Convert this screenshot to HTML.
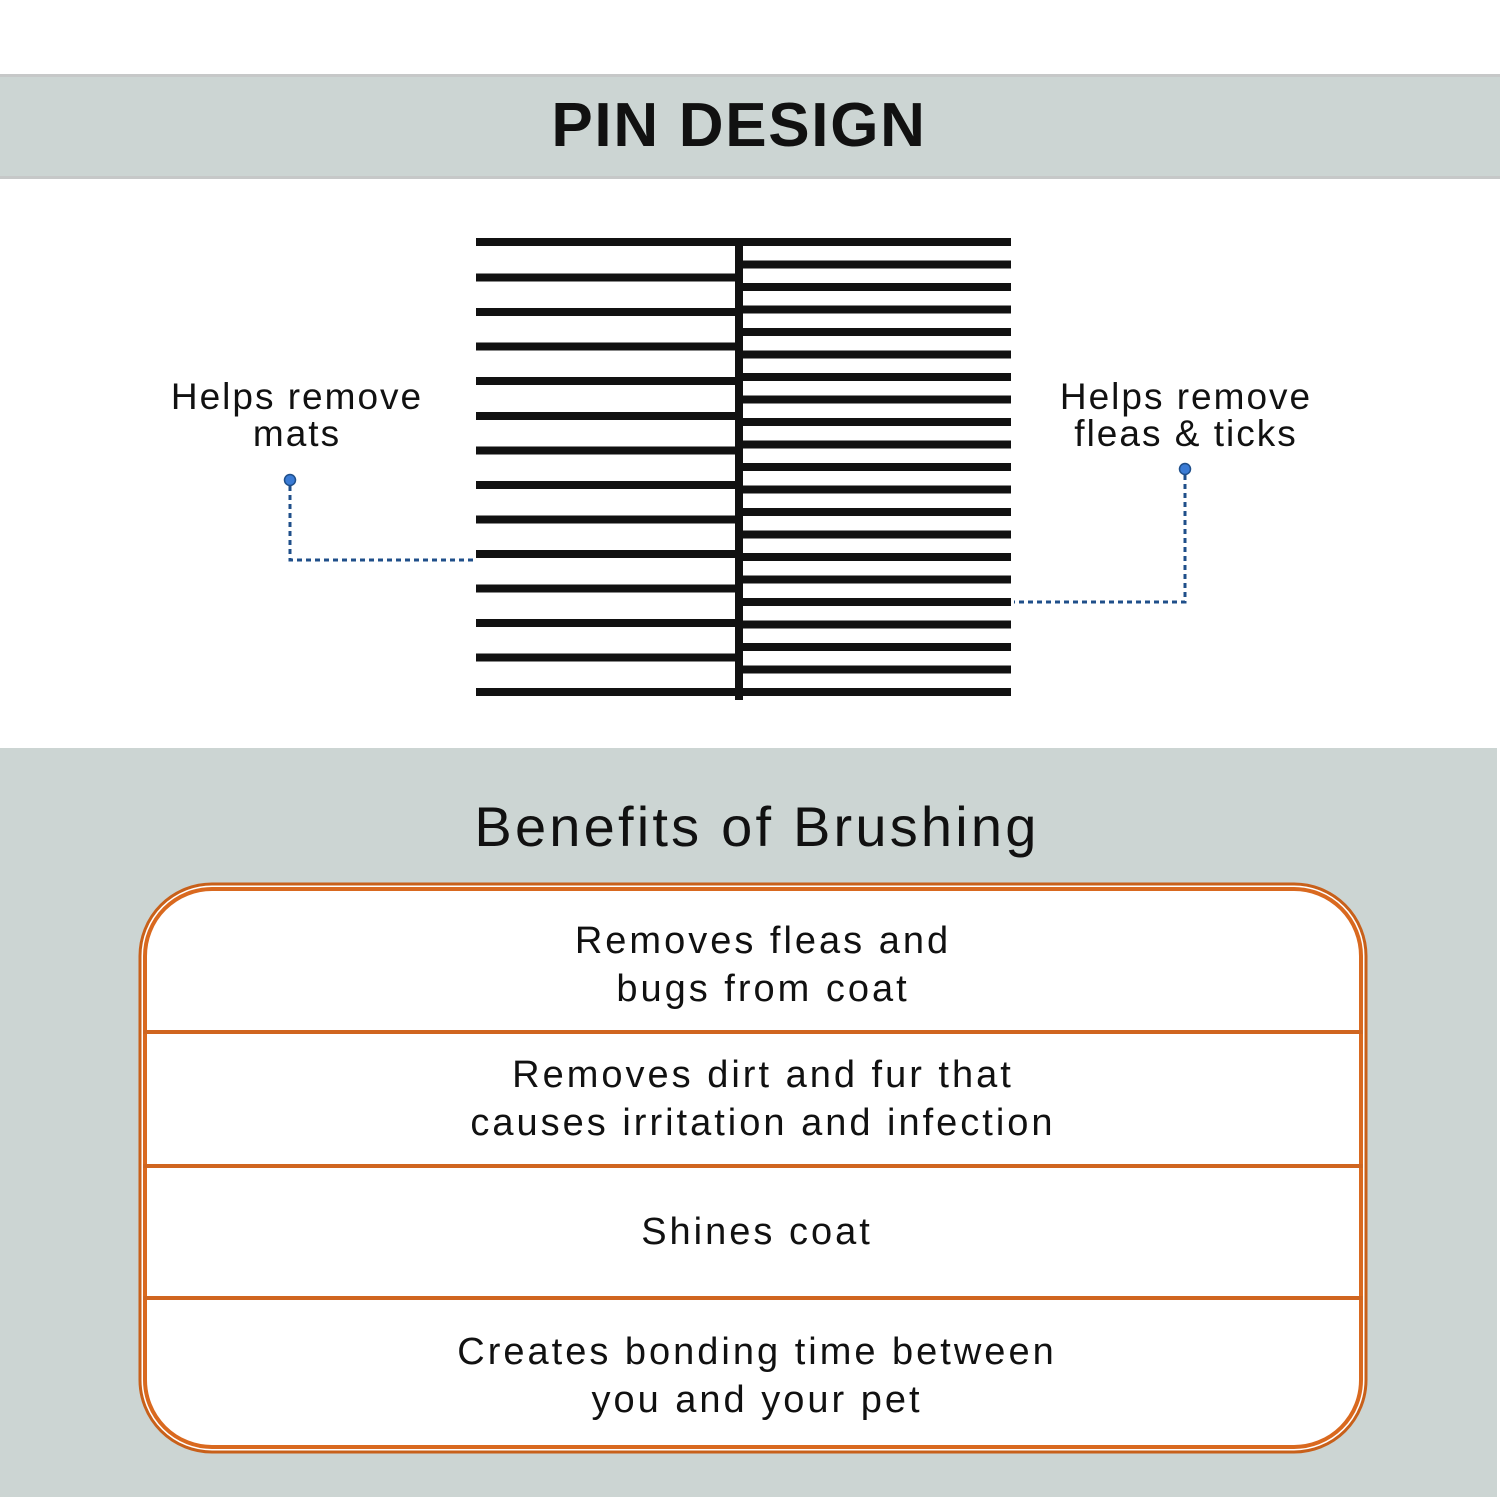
<!DOCTYPE html>
<html><head><meta charset="utf-8"><style>
html,body{margin:0;padding:0;background:#fff;}
svg{display:block;}
text{font-family:"Liberation Sans",sans-serif;fill:#111;}
</style></head><body>
<svg width="1500" height="1500" viewBox="0 0 1500 1500" xmlns="http://www.w3.org/2000/svg">
<rect x="0" y="0" width="1500" height="1500" fill="#fff"/>
<rect x="0" y="74" width="1500" height="105" fill="#ccd5d3"/>
<rect x="0" y="74" width="1500" height="3" fill="#c6c8c8"/>
<rect x="0" y="176" width="1500" height="3" fill="#c6c8c8"/>
<text x="739" y="146" font-size="62" font-weight="bold" text-anchor="middle" letter-spacing="1.7">PIN DESIGN</text>

<g fill="#111">
<rect x="735" y="244" width="8" height="456"/>
<rect x="476" y="238" width="535" height="8"/>
<rect x="476" y="273.5" width="266" height="8"/>
<rect x="476" y="308" width="266" height="8"/>
<rect x="476" y="342.5" width="266" height="8"/>
<rect x="476" y="377" width="266" height="8"/>
<rect x="476" y="412" width="266" height="8"/>
<rect x="476" y="446.5" width="266" height="8"/>
<rect x="476" y="481" width="266" height="8"/>
<rect x="476" y="515.5" width="266" height="8"/>
<rect x="476" y="550" width="266" height="8"/>
<rect x="476" y="584.5" width="266" height="8"/>
<rect x="476" y="619" width="266" height="8"/>
<rect x="476" y="653.5" width="266" height="8"/>
<rect x="476" y="688" width="535" height="8"/>
<rect x="742" y="260.5" width="269" height="8"/>
<rect x="742" y="283" width="269" height="8"/>
<rect x="742" y="305.5" width="269" height="8"/>
<rect x="742" y="328" width="269" height="8"/>
<rect x="742" y="350.5" width="269" height="8"/>
<rect x="742" y="373" width="269" height="8"/>
<rect x="742" y="395.5" width="269" height="8"/>
<rect x="742" y="418" width="269" height="8"/>
<rect x="742" y="440.5" width="269" height="8"/>
<rect x="742" y="463" width="269" height="8"/>
<rect x="742" y="485.5" width="269" height="8"/>
<rect x="742" y="508" width="269" height="8"/>
<rect x="742" y="530.5" width="269" height="8"/>
<rect x="742" y="553" width="269" height="8"/>
<rect x="742" y="575.5" width="269" height="8"/>
<rect x="742" y="598" width="269" height="8"/>
<rect x="742" y="620.5" width="269" height="8"/>
<rect x="742" y="643" width="269" height="8"/>
<rect x="742" y="665.5" width="269" height="8"/>
</g>

<g font-size="37" text-anchor="middle" letter-spacing="2">
<text x="297" y="409">Helps remove</text>
<text x="297" y="446">mats</text>
<text x="1186" y="409">Helps remove</text>
<text x="1186" y="446">fleas &amp; ticks</text>
</g>

<g fill="none" stroke="#1f4f8a" stroke-width="3" stroke-dasharray="5 4">
<path d="M290 486 V560 H476"/>
<path d="M1185 475 V602 H1014"/>
</g>
<circle cx="290" cy="480" r="5.5" fill="#3a7bd5" stroke="#1f4f8a" stroke-width="1.5"/>
<circle cx="1185" cy="469" r="5.5" fill="#3a7bd5" stroke="#1f4f8a" stroke-width="1.5"/>

<rect x="0" y="748" width="1497" height="749" fill="#ccd5d3"/>
<text x="757" y="846" font-size="56" text-anchor="middle" letter-spacing="3.2">Benefits of Brushing</text>

<rect x="140" y="884" width="1226" height="568" rx="72" fill="#fff" stroke="#c8601a" stroke-width="3"/>
<rect x="145" y="889" width="1216" height="558" rx="67" fill="#fff" stroke="#d9691f" stroke-width="4"/>
<g fill="#d06520">
<rect x="143" y="1030" width="1220" height="4"/>
<rect x="143" y="1164" width="1220" height="4"/>
<rect x="143" y="1296" width="1220" height="4"/>
</g>
<g font-size="38" text-anchor="middle" letter-spacing="3">
<text x="763" y="953">Removes fleas and</text>
<text x="763" y="1001">bugs from coat</text>
<text x="763" y="1087">Removes dirt and fur that</text>
<text x="763" y="1135">causes irritation and infection</text>
<text x="757" y="1244">Shines coat</text>
<text x="757" y="1364">Creates bonding time between</text>
<text x="757" y="1412">you and your pet</text>
</g>
</svg>
</body></html>
